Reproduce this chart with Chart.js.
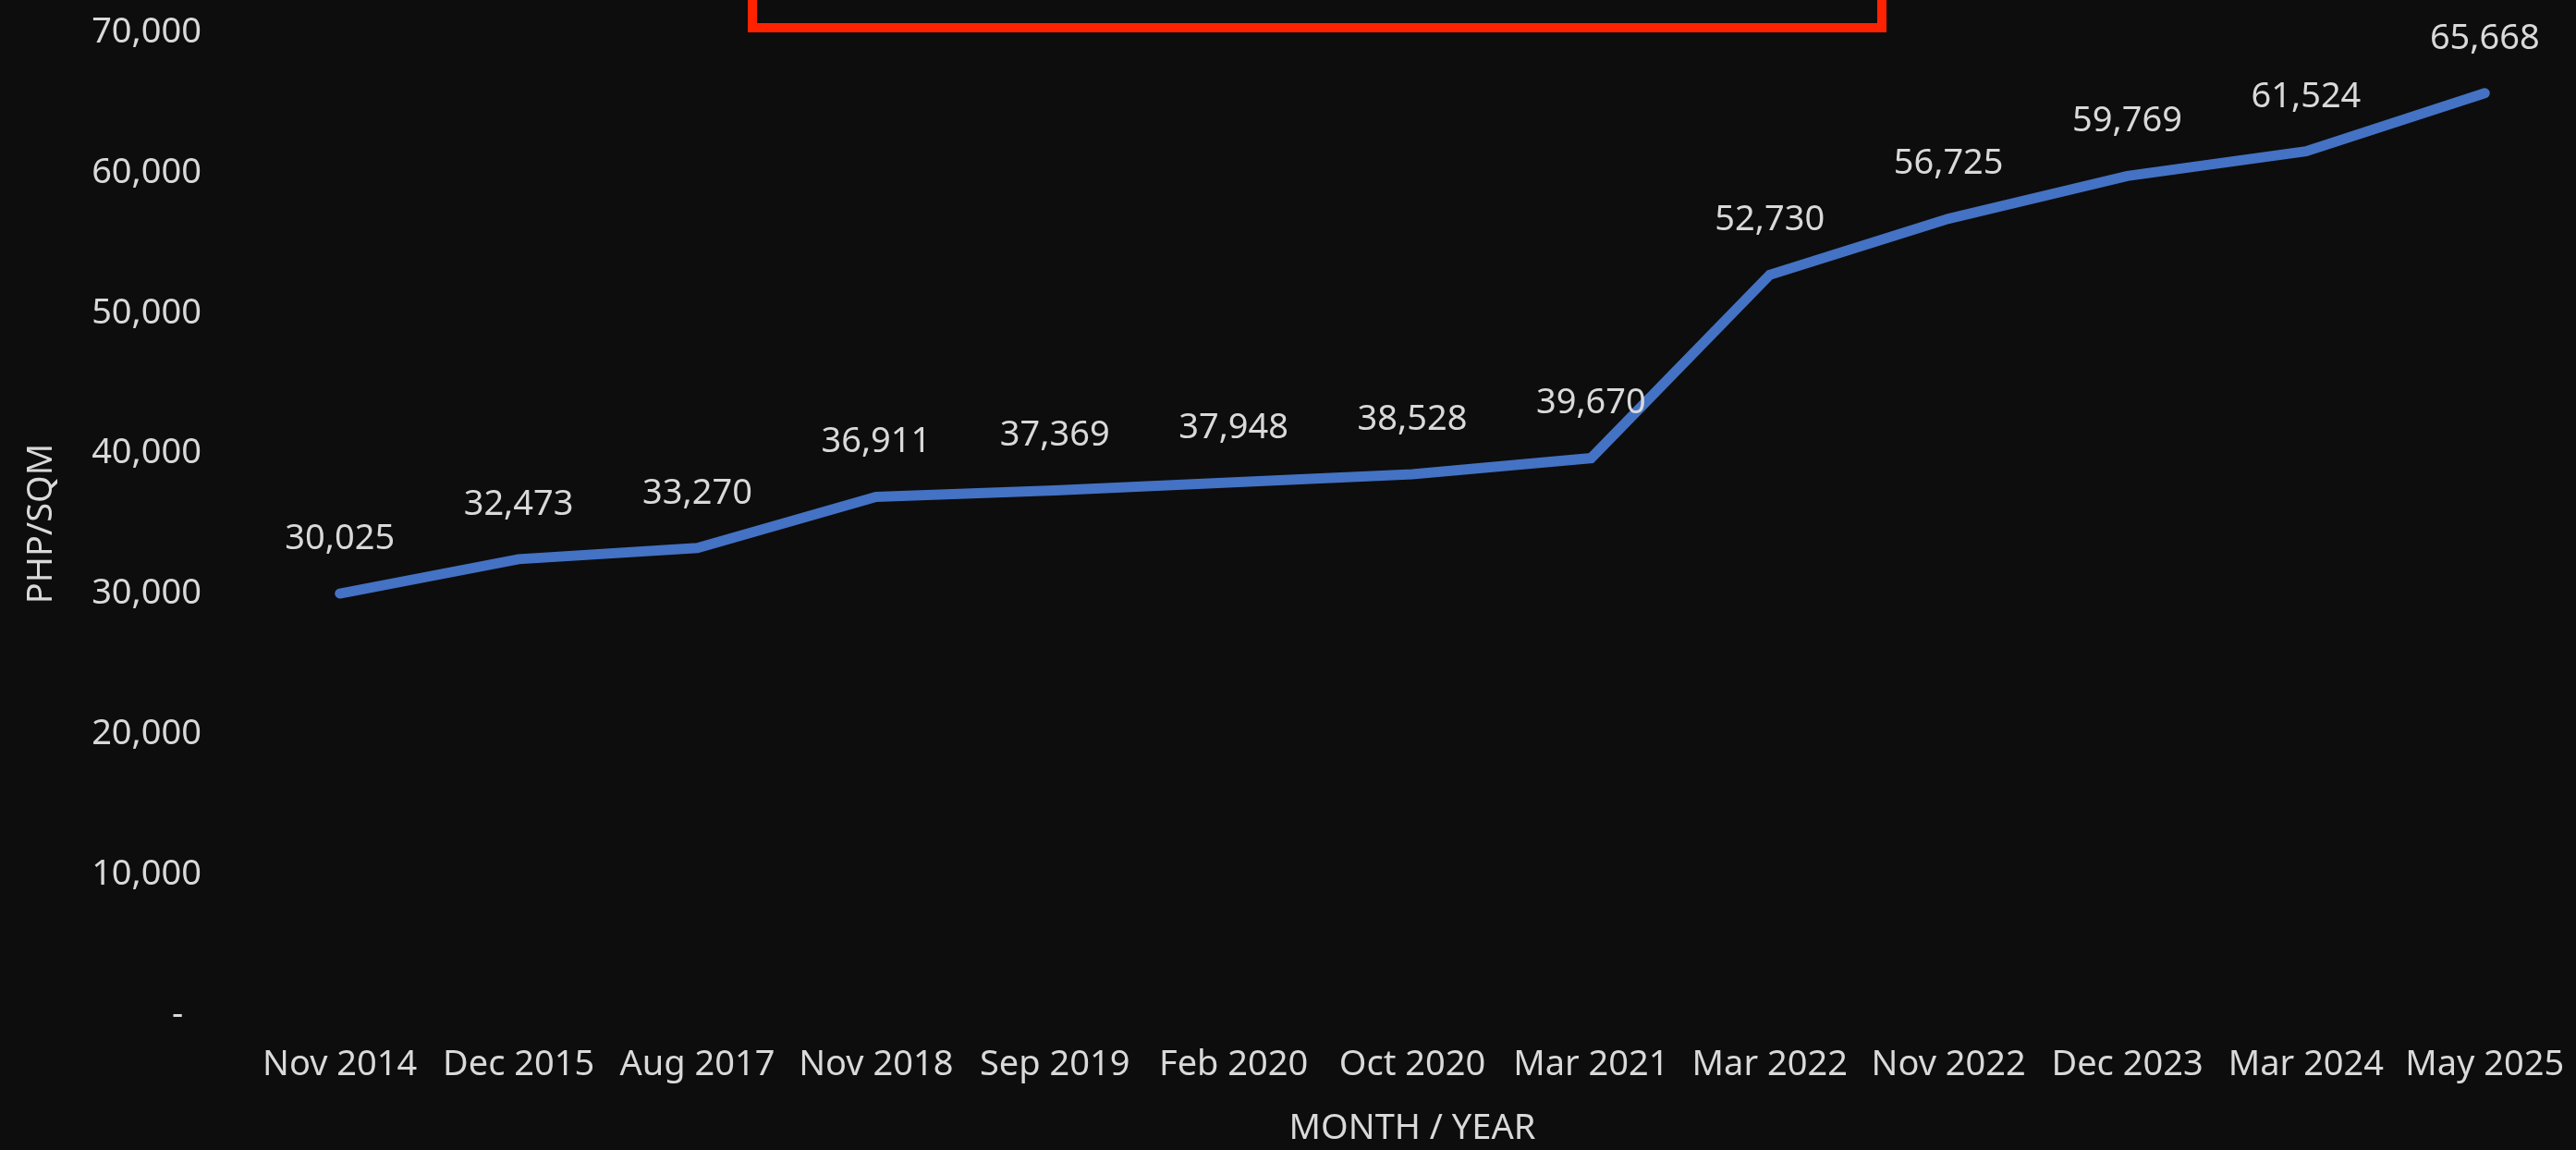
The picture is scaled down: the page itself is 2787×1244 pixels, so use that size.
<!DOCTYPE html>
<html>
<head>
<meta charset="utf-8">
<script src="https://cdn.jsdelivr.net/npm/chart.js@4/dist/chart.umd.min.js"></script>
<style>
  html, body { margin: 0; padding: 0; background: #0d0d0d; overflow: hidden; }
  #wrap { position: relative; width: 2787px; height: 1244px; }
  #callout {
    position: absolute; left: 809px; top: -100px; width: 1232px; height: 135px;
    border: 10px solid #ff2200; box-sizing: border-box;
  }
</style>
</head>
<body>
<div id="wrap">
  <canvas id="price-chart"></canvas>
  <div id="callout"></div>
</div>
<script>
// price per sqm
var periods = ['Nov 2014', 'Dec 2015', 'Aug 2017', 'Nov 2018', 'Sep 2019', 'Feb 2020', 'Oct 2020',
               'Mar 2021', 'Mar 2022', 'Nov 2022', 'Dec 2023', 'Mar 2024', 'May 2025'];
var pricePerSqm = [30025, 32473, 33270, 36911, 37369, 37948, 38528, 39670, 52730, 56725, 59769, 61524, 65668];
var yMin = 0;
var yMax = 70000;
var yStep = 10000;

var textColor = '#d9d9d9';
var fontFamily = "'Noto Sans', 'Open Sans', sans-serif";

var fmt = function (v) {
    return v.toLocaleString('en-US');
};

// draws the value above each point (no datalabels plugin available)
var valueLabels = {
    id: 'valueLabels',
    afterDatasetsDraw: function (chart) {
        var ctx = chart.ctx;
        var meta = chart.getDatasetMeta(0);
        var data = chart.data.datasets[0].data;
        ctx.save();
        ctx.font = '38px ' + fontFamily;
        ctx.fillStyle = textColor;
        ctx.textAlign = 'center';
        ctx.textBaseline = 'middle';
        meta.data.forEach(function (pt, i) {
            ctx.fillText(fmt(data[i]), pt.x, pt.y - 59);
        });
        ctx.restore();
    }
};

var ctx = document.getElementById('price-chart').getContext('2d');
var priceChart = new Chart(ctx, {
    type: 'line',
    data: {
        labels: periods,
        datasets: [
            {
                label: 'PHP/SQM',
                data: pricePerSqm,
                borderColor: '#4472c4',
                borderWidth: 11,
                borderCapStyle: 'round',
                pointRadius: 0,
                pointHoverRadius: 0,
                tension: 0,
                fill: false
            }
        ]
    },
    options: {
        responsive: true,
        maintainAspectRatio: false,
        animation: false,
        devicePixelRatio: 1,
        layout: { padding: { top: 35, right: 2, bottom: 0, left: 0 } },
        plugins: {
            legend: { display: false },
            tooltip: { enabled: false }
        },
        scales: {
            x: {
                offset: true,
                grid: { display: false, drawTicks: false },
                border: { display: false },
                ticks: {
                    color: textColor,
                    font: { family: fontFamily, size: 38 },
                    padding: 31,
                    maxRotation: 0,
                    autoSkip: false
                },
                title: {
                    display: true,
                    text: 'MONTH / YEAR',
                    color: textColor,
                    font: { family: fontFamily, size: 38 },
                    padding: { top: 0, bottom: 0 }
                },
                afterFit: function (scale) {
                    scale.height = 146;
                    scale.paddingLeft = 0;
                    scale.paddingRight = 0;
                }
            },
            y: {
                min: yMin,
                max: yMax,
                grid: { display: false, drawTicks: false },
                border: { display: false },
                ticks: {
                    stepSize: yStep,
                    color: textColor,
                    font: { family: fontFamily, size: 38 },
                    padding: 53,
                    callback: function (v) { return v === 0 ? '-  ' : fmt(v); }
                },
                title: {
                    display: true,
                    text: 'PHP/SQM',
                    color: textColor,
                    font: { family: fontFamily, size: 38 },
                    padding: { top: 22, bottom: 0 }
                },
                afterFit: function (scale) {
                    scale.width = 271;
                    scale.paddingTop = 0;
                    scale.paddingBottom = 0;
                }
            }
        }
    },
    plugins: [valueLabels]
});
</script>
</body>
</html>
